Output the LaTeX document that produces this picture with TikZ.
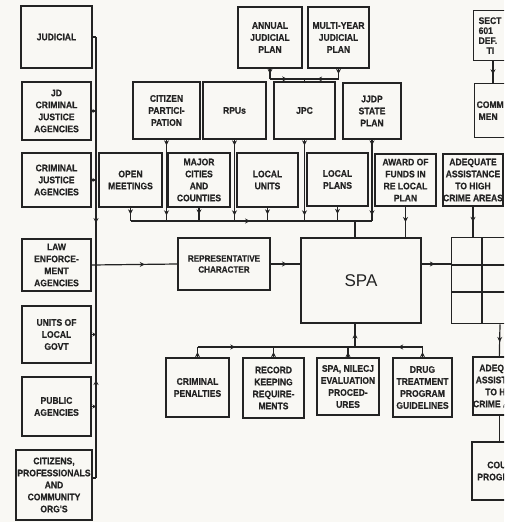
\documentclass[tikz,border=0pt]{standalone}
\usepackage{fontspec}
\newfontfamily\bxf{Liberation Sans}[FakeStretch=0.9, BoldFeatures={FakeBold=0.4}]
\newfontfamily\spaf{Liberation Sans}
\usetikzlibrary{arrows.meta,decorations.markings}
\definecolor{ink}{RGB}{35,35,35}
\definecolor{paper}{RGB}{249,248,244}
\tikzset{
 mytip/.tip={Stealth[length=5pt,width=5pt]},
 box/.style={draw=ink, line width=1.3pt, inner sep=0pt, align=center, text=ink,
   font=\bxf\bfseries\fontsize{9.5}{12}\selectfont},
 ln/.style={draw=ink, line width=1.2pt},
 arr/.style={postaction={decorate}, decoration={markings, mark=at position #1 with {\arrow{mytip}}}},
 arr/.default=0.5,
 arrtwo/.style 2 args={postaction={decorate}, decoration={markings,
   mark=at position #1 with {\arrow{mytip}}, mark=at position #2 with {\arrow{mytip}}}},
 endtip/.style={-{Stealth[length=3.5pt,width=4pt]}},
}
\begin{document}
\begin{tikzpicture}[x=1pt,y=-1pt]
\fill[paper] (0,0) rectangle (504,522);
\useasboundingbox (0,0) rectangle (504,522);
\clip (0,0) rectangle (504,522);

% ---------- left column ----------
\node[box, minimum width=71pt, minimum height=62pt] (jud) at (56.5,37) {JUDICIAL};
\node[box, minimum width=69pt, minimum height=58pt] (jdcj) at (56.5,111) {JD\\CRIMINAL\\JUSTICE\\AGENCIES};
\node[box, minimum width=69pt, minimum height=54pt] (cja) at (56.5,180) {CRIMINAL\\JUSTICE\\AGENCIES};
\node[box, minimum width=69pt, minimum height=52pt] (lea) at (56.5,265) {LAW\\ENFORCE-\\MENT\\AGENCIES};
\node[box, minimum width=69pt, minimum height=57pt] (ulg) at (56.5,334.5) {UNITS OF\\LOCAL\\GOVT};
\node[box, minimum width=69pt, minimum height=59pt] (pub) at (56.5,406.5) {PUBLIC\\AGENCIES};
\node[box, minimum width=76pt, minimum height=70pt] (cit) at (54,485) {CITIZENS,\\PROFESSIONALS\\AND\\COMMUNITY\\ORG'S};

% ---------- top row ----------
\node[box, minimum width=64pt, minimum height=61pt] (ajp) at (270,37.5) {ANNUAL\\JUDICIAL\\PLAN};
\node[box, minimum width=61pt, minimum height=61pt] (myjp) at (338.5,37.5) {MULTI-YEAR\\JUDICIAL\\PLAN};
\node[box, anchor=north west, text width=60pt, inner xsep=5pt, minimum height=50pt, align=left,
  font=\bxf\bfseries\fontsize{9.5}{10}\selectfont] (sect) at (473,10) {SECT\\601\\DEF.\\\hspace*{8pt}TI};
\node[box, anchor=north west, text width=60pt, inner xsep=2pt, minimum height=54pt, align=left] (comm) at (474,83) {COMM\\\hspace*{2pt}MEN};

% ---------- second row ----------
\node[box, minimum width=67pt, minimum height=57pt] (cp) at (166.5,110.5) {CITIZEN\\PARTICI-\\PATION};
\node[box, minimum width=63pt, minimum height=57pt] (rpu) at (234.5,110.5) {RPUs};
\node[box, minimum width=61pt, minimum height=57pt] (jpc) at (304.5,110.5) {JPC};
\node[box, minimum width=58pt, minimum height=56pt] (jjdp) at (372,111) {JJDP\\STATE\\PLAN};

% ---------- third row ----------
\node[box, minimum width=63pt, minimum height=54pt] (om) at (130.5,180) {OPEN\\MEETINGS};
\node[box, minimum width=62pt, minimum height=54pt] (mcc) at (199,180) {MAJOR\\CITIES\\AND\\COUNTIES};
\node[box, minimum width=61pt, minimum height=54pt] (lu) at (267.5,180) {LOCAL\\UNITS};
\node[box, minimum width=61pt, minimum height=53pt] (lp) at (337.5,179.5) {LOCAL\\PLANS};
\node[box, minimum width=61pt, minimum height=52pt] (afl) at (405.5,180) {AWARD OF\\FUNDS IN\\RE LOCAL\\PLAN};
\node[box, minimum width=60pt, minimum height=52pt] (aah) at (473,180) {ADEQUATE\\ASSISTANCE\\TO HIGH\\CRIME AREAS};

% ---------- middle ----------
\node[box, minimum width=92pt, minimum height=52pt, font=\bxf\bfseries\fontsize{9}{11}\selectfont] (rep) at (224,264) {REPRESENTATIVE\\CHARACTER};
\node[box, minimum width=120pt, minimum height=85pt, font=\spaf\fontsize{17}{20}\selectfont] (spa) at (361,280.5) {SPA};
\node[box, anchor=north west, minimum width=90pt, minimum height=86pt] (grid) at (451,237) {};
\draw[ln] ([xshift=31pt]grid.north west) -- ([xshift=31pt]grid.south west);
\draw[ln] ([yshift=-28pt]grid.north west) -- ([yshift=-28pt]grid.north east);
\draw[ln] ([yshift=-55pt]grid.north west) -- ([yshift=-55pt]grid.north east);

% ---------- bottom row ----------
\node[box, minimum width=63pt, minimum height=59pt] (crp) at (197.5,387.5) {CRIMINAL\\PENALTIES};
\node[box, minimum width=61pt, minimum height=60pt] (rkr) at (273.5,388) {RECORD\\KEEPING\\REQUIRE-\\MENTS};
\node[box, minimum width=62pt, minimum height=57pt] (spae) at (348,386.5) {SPA, NILECJ\\EVALUATION\\PROCED-\\URES};
\node[box, minimum width=59pt, minimum height=59pt] (dtp) at (422.5,387.5) {DRUG\\TREATMENT\\PROGRAM\\GUIDELINES};
\node[box, minimum width=60pt, minimum height=58pt] (aah2) at (503,386) {ADEQUATE\\ASSISTANCE\\TO HIGH\\CRIME AREAS};
\node[box, minimum width=61pt, minimum height=58pt] (cp2) at (502.5,471) {COURT\\PROGRAMS};

% ---------- coordinates ----------
\coordinate (busx) at (96,0);
\coordinate (cit7) at ([yshift=7pt]cit.east);
\coordinate (jtop) at (304.5,79);
\coordinate (rb) at (0,221);
\coordinate (bb) at (0,347);
\coordinate (st) at ([xshift=-6pt]spa.north);
\coordinate (sb) at ([xshift=-6pt]spa.south);

% ---------- left bus ----------
\draw[ln] (jud.east) -- (jud.east -| busx);
\draw[ln, arr=0.816] (jud.east -| busx) -- (lea.east -| busx);
\draw[ln] (cit7) -- (cit7 -| busx);
\draw[ln, arr=0.46] (cit7 -| busx) -- (lea.east -| busx);
\draw[ln, endtip] (jdcj.east) -- (jdcj.east -| busx);
\draw[ln, endtip] (cja.east) -- (cja.east -| busx);
\draw[ln, endtip] (ulg.east) -- (ulg.east -| busx);
\draw[ln, endtip] (pub.east) -- (pub.east -| busx);
\draw[ln, arr=0.62] (lea.east) -- (rep.west);
\draw[ln, arr=0.55] (rep.east) -- (rep.east -| spa.west);
\draw[ln, arr=0.45] (rep.east -| spa.east) -- (rep.east -| grid.west);

% ---------- top plans to JPC ----------
\draw[ln, arr=0.5] (ajp.south) -- (ajp.south |- jtop);
\draw[ln, arr=0.5] (ajp.south |- jtop) -- (jtop);
\draw[ln, arr=0.5] (myjp.south) -- (myjp.south |- jtop);
\draw[ln, arr=0.63] (myjp.south |- jtop) -- (jtop);
\draw[ln] (jtop) -- (jpc.north);
\draw[ln, arr=0.6] ([xshift=20pt]sect.south west) -- ([xshift=19pt]comm.north west);

% ---------- upper bus ----------
\draw[ln, arr=0.495] (om.south |- rb) -- (jjdp.south |- rb);
\foreach \b in {om,mcc,lu,lp} \draw[ln, arr] (\b.south) -- (\b.south |- rb);
\foreach \b in {cp,rpu,jpc,jjdp} \draw[ln, arrtwo={0.07}{0.93}] (\b.south) -- (\b.south |- rb);
\draw[ln] (st |- rb) -- (st);
\draw[ln, arr] (afl.south) -- (afl.south |- spa.north);
\draw[ln, arr] (aah.south) -- (aah.south |- grid.north);

% ---------- lower bus ----------
\draw[ln, arr=0.24] (crp.north |- bb) -- (sb |- bb);
\draw[ln, arr=0.36] (dtp.north |- bb) -- (sb |- bb);
\draw[ln, arr=0.58] (sb |- bb) -- (sb);
\foreach \b in {crp,rkr,spae,dtp} \draw[ln, arr] (\b.north) -- (\b.north |- bb);

% ---------- right column ----------
\draw[ln, arr=0.55] ([xshift=49pt]grid.south west) -- ([xshift=27pt]aah2.north west);
\draw[ln] ([xshift=27pt]aah2.south west) -- ([xshift=28pt]cp2.north west);
\end{tikzpicture}
\end{document}
